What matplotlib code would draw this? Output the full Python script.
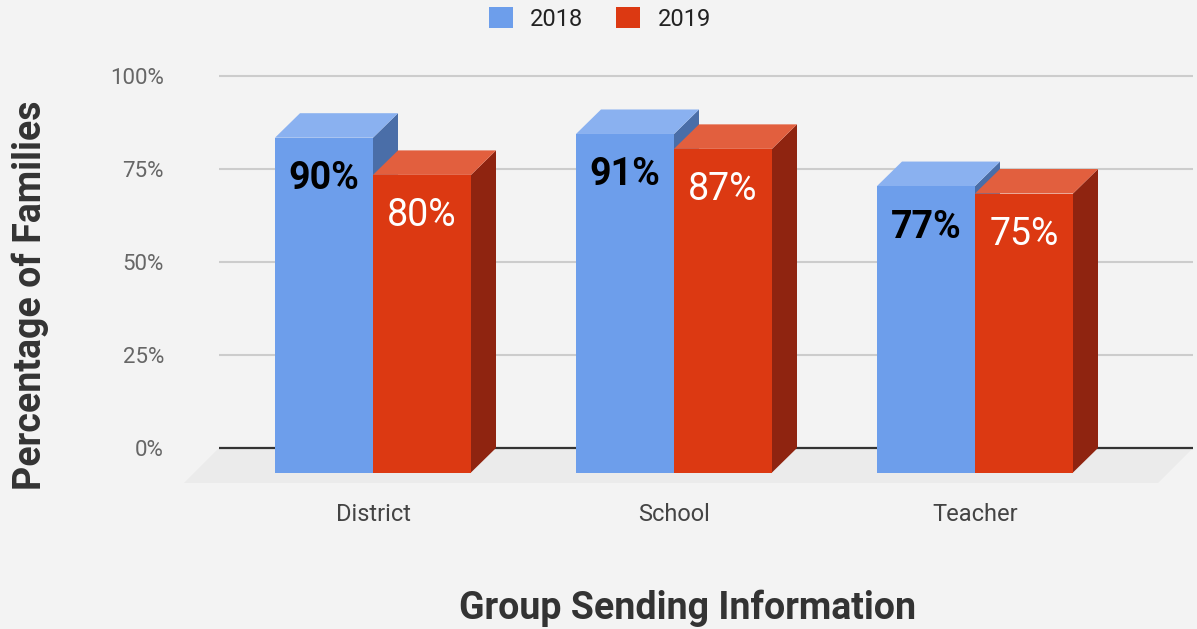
import numpy as np
import matplotlib.pyplot as plt
from matplotlib.patches import Polygon, Patch

plt.rcParams['font.family'] = ['Roboto', 'DejaVu Sans']

# data
categories = ['District', 'School', 'Teacher']
series = ['2018', '2019']
values_2018 = [90, 91, 77]
values_2019 = [80, 87, 75]
labels_2018 = ['90%', '91%', '77%']
labels_2019 = ['80%', '87%', '75%']
yticks = [0, 25, 50, 75, 100]
ytick_labels = ['0%', '25%', '50%', '75%', '100%']

# colours: front, top, side
blue = ('#6d9eeb', '#8ab1f0', '#4a6ea8')
red = ('#dc3912', '#e25f3e', '#8f2410')
bg = '#f3f3f3'

# pixel scale of the back plane (px per unit)
W_PX, H_PX = 1197, 629
PX_X = 301.0      # px per category
PX_Y = 3.72       # px per percent
X0_PX, Y0_PX = 398, 448   # back-plane position of category 0, value 0

fig = plt.figure(figsize=(W_PX / 100, H_PX / 100), dpi=100, facecolor=bg)
ax_l, ax_r, ax_t, ax_b = 178, 1197, 60, 500
ax = fig.add_axes([ax_l / W_PX, 1 - ax_b / H_PX, (ax_r - ax_l) / W_PX, (ax_b - ax_t) / H_PX])
ax.set_facecolor(bg)
ax.set_xlim((ax_l - X0_PX) / PX_X, (ax_r - X0_PX) / PX_X)
ax.set_ylim((Y0_PX - ax_b) / PX_Y, (Y0_PX - ax_t) / PX_Y)
for s in ax.spines.values():
    s.set_visible(False)

# depth of bars and floor in data units
dx, dy = 25 / PX_X, 24.5 / PX_Y
fdx, fdy = 35 / PX_X, 35 / PX_Y
bw = 98 / PX_X
gx0, gx1 = (219 - X0_PX) / PX_X, (1193 - X0_PX) / PX_X

# floor
ax.add_patch(Polygon([(gx0, 0), (gx1, 0), (gx1 - fdx, -fdy), (gx0 - fdx, -fdy)],
                     closed=True, facecolor='#ebebeb', edgecolor='none', zorder=1))

# grid lines
ax.hlines(yticks[1:], gx0, gx1, color='#cccccc', lw=1.5, zorder=2)
ax.hlines(0, gx0, gx1, color='#333333', lw=1.6, zorder=2)


def bar3d(x0, v, cols):
    front, top, side = cols
    ax.add_patch(Polygon([(x0 - dx + bw, -dy), (x0 + bw, 0), (x0 + bw, v), (x0 - dx + bw, v - dy)],
                         closed=True, facecolor=side, edgecolor='none', zorder=3))
    ax.add_patch(Polygon([(x0 - dx, v - dy), (x0 - dx + bw, v - dy), (x0 + bw, v), (x0, v)],
                         closed=True, facecolor=top, edgecolor='none', zorder=3))
    ax.add_patch(Polygon([(x0 - dx, -dy), (x0 - dx + bw, -dy), (x0 - dx + bw, v - dy), (x0 - dx, v - dy)],
                         closed=True, facecolor=front, edgecolor='none', zorder=3))


lab_off = 41 / PX_Y
for i in range(len(categories)):
    for j, (vals, labs, cols) in enumerate([(values_2018, labels_2018, blue),
                                            (values_2019, labels_2019, red)]):
        x0 = i - bw + j * bw
        bar3d(x0, vals[i], cols)
        cx = x0 - dx + bw / 2
        if j == 0:
            ax.text(cx, vals[i] - dy - lab_off, labs[i], ha='center', va='center',
                    fontsize=27, fontweight='bold', color='black', zorder=5)
        else:
            ax.text(cx, vals[i] - dy - lab_off, labs[i], ha='center', va='center',
                    fontsize=27, color='white', zorder=5)

ax.set_yticks(yticks)
ax.set_yticklabels(ytick_labels, fontsize=16, color='#666666')
ax.set_xticks([i - dx for i in range(len(categories))])
ax.set_xticklabels(categories, fontsize=17, color='#444444')
ax.tick_params(axis='both', length=0)
ax.tick_params(axis='y', pad=10)
ax.tick_params(axis='x', pad=2)

fig.text(30 / W_PX, 1 - 295 / H_PX, 'Percentage of Families', rotation=90, ha='center', va='center',
         fontsize=27, fontweight='bold', color='#333333')
fig.text(688 / W_PX, 1 - 608 / H_PX, 'Group Sending Information', ha='center', va='center',
         fontsize=27, fontweight='bold', color='#333333')

handles = [Patch(facecolor=blue[0], edgecolor='none'), Patch(facecolor=red[0], edgecolor='none')]
fig.legend(handles, series, loc='center', bbox_to_anchor=(600 / W_PX, 1 - 19 / H_PX), ncol=2,
           frameon=False, fontsize=17, handlelength=1.0, handleheight=1.0, handletextpad=0.75,
           columnspacing=1.4, labelcolor='#222222')

fig.savefig('out.png', dpi=100, facecolor=bg)
